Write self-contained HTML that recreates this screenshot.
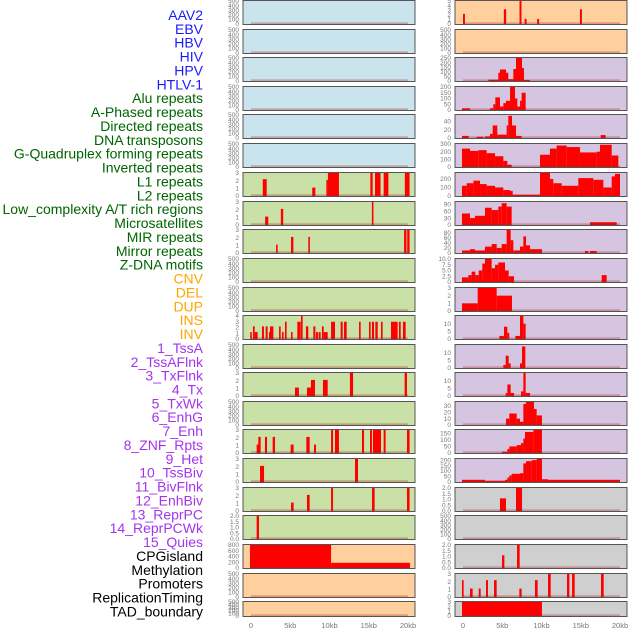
<!DOCTYPE html>
<html><head><meta charset="utf-8"><style>
html,body{margin:0;padding:0;background:#fff;}
svg{display:block;font-family:"Liberation Sans",sans-serif;}
</style></head><body>
<svg id="chart" width="630" height="630" viewBox="0 0 630 630" xmlns="http://www.w3.org/2000/svg"></svg>
<script>
const labels = ["AAV2","EBV","HBV","HIV","HPV","HTLV-1","Alu repeats","A-Phased repeats","Directed repeats","DNA transposons","G-Quadruplex forming repeats","Inverted repeats","L1 repeats","L2 repeats","Low_complexity A/T rich regions","Microsatellites","MIR repeats","Mirror repeats","Z-DNA motifs","CNV","DEL","DUP","INS","INV","1_TssA","2_TssAFlnk","3_TxFlnk","4_Tx","5_TxWk","6_EnhG","7_Enh","8_ZNF_Rpts","9_Het","10_TssBiv","11_BivFlnk","12_EnhBiv","13_ReprPC","14_ReprPCWk","15_Quies","CPGisland","Methylation","Promoters","ReplicationTiming","TAD_boundary"];
const labelColors = ["#1a1aff",6,"#006400",13,"#ffa500",5,"#a335ee",15,"#000000",5];
const rowTops = [0,29,57,86,114,143,172,201,229,258,287,315,344,372,401,429,458,487,515,544,573,601];
const leftBg = ["#c9e4ec","#c9e4ec","#c9e4ec","#c9e4ec","#c9e4ec","#c9e4ec","#c9e0a6","#c9e0a6","#c9e0a6","#c9e0a6","#c9e0a6","#c9e0a6","#c9e0a6","#c9e0a6","#c9e0a6","#c9e0a6","#c9e0a6","#c9e0a6","#c9e0a6","#ffd09e","#ffd09e","#ffd09e"];
const rightBg = ["#ffd09e","#ffd09e","#d6c5e1","#d6c5e1","#d6c5e1","#d6c5e1","#d6c5e1","#d6c5e1","#d6c5e1","#d6c5e1","#d6c5e1","#d6c5e1","#d6c5e1","#d6c5e1","#d6c5e1","#d6c5e1","#d6c5e1","#cfcfcf","#cfcfcf","#cfcfcf","#cfcfcf","#cfcfcf"];
const T500 = ["0","100","200","300","400","500"];
const T3 = ["0","1","2","3"];
const T2 = ["0.0","0.5","1.0","1.5","2.0"];
const leftTicks = [T500,T500,T500,T500,T500,T500,T3,T3,T3,T500,T500,["0","1","2","3","4"],T500,T3,T500,T3,T3,T3,T2,["0","200","400","600","800"],T500,T500];
const leftMax = [500,500,500,500,500,500,3,3,3,500,500,4,500,3,500,3,3,3,2,800,500,500];
const rightTicks = [["0","1","2","3","4","5"],T500,["0","50","100","150","200","250"],["0","50","100","150","200"],["0","20","40"],["0","100","200","300"],["0","100","200"],["0","30","60","90"],["0","20","40","60","80"],["0","2.5","5.0","7.5","10.0"],T3,["0","5","10"],["0","5","10"],["0","5","10"],["0","10","20","30"],["0","50","100","150"],["0","50","100","150","200"],T2,T500,T2,T3,T3];
const rightTickMax = [5,500,250,200,40,300,200,90,80,10,3,10,10,10,30,150,200,2,500,2,3,3];
const rightMax = [5,500,250,200,55,300,270,100,90,10,3,15,15,15,36,175,210,2,500,2,3,3];
const leftBars = [[],[],[],[],[],[],
[[1.5,2.0,2.2],[7.8,8.2,1.1],[9.6,9.8,2.1],[9.8,11.2,3],[15.2,15.5,3],[15.8,16.5,3],[16.9,17.5,3],[19.6,20.2,3]],
[[1.8,2.2,1.1],[3.8,4.1,2.1],[15.4,15.6,3]],
[[3.2,3.4,1.1],[5.1,5.4,2.1],[7.3,7.5,2.1],[19.5,19.8,3],[19.9,20.2,3]],
[],[],
[[-0.1,0.1,1.2],[0.25,0.47,2.2],[0.47,0.85,1.2],[1.4,1.65,2.2],[1.87,2.12,2.2],[2.3,2.5,1.2],[2.42,2.85,2.2],[3.57,3.78,2.2],[3.95,4.16,1.2],[4.33,4.54,3],[5.1,5.3,1.2],[5.9,6.33,3],[6.37,6.58,4],[7.0,7.3,2.2],[7.94,8.2,2.2],[8.28,8.53,1.2],[8.62,8.87,1.2],[9.04,9.26,2.2],[9.26,9.77,1.2],[10.2,10.7,3],[11.42,11.68,3],[11.85,12.19,3],[13.76,13.97,3],[15.03,15.24,3],[15.41,15.67,3],[15.84,16.14,3],[16.56,16.77,3],[17.83,18.68,3],[18.85,19.07,3],[19.36,19.7,3]],
[],
[[5.6,6.1,1.1],[7.13,7.64,1.1],[7.64,8.15,2.1],[9.17,9.77,2.1],[12.6,13.0,3],[19.57,19.87,3]],
[],
[[0.72,0.98,1.1],[0.93,1.23,2.1],[1.78,2.04,2.1],[2.76,3.06,2.1],[5.05,5.43,1.1],[7.05,7.47,2.1],[8.03,8.28,1.1],[10.2,10.45,3],[10.7,11.2,3],[14.14,14.4,3],[15.16,15.41,3],[15.54,16.56,3],[16.9,17.15,3],[19.87,20.2,3]],
[[1.15,1.66,2.1],[13.25,13.63,3]],
[[5.1,5.43,1.1],[7.13,7.47,2.1],[10.2,10.45,3],[15.41,15.75,3],[19.87,20.2,3]],
[[0.72,1.02,2.1]],
[[-0.13,10.2,850],[10.2,20.25,180]],
[],[]];
const rightBars = [
[[0,0.25,2.2],[5.2,5.5,3.2],[7.2,7.45,5],[7.85,8.1,1.1],[9.45,9.7,1.1],[14.9,15.15,3.2]],
[],
[[3.23,4.5,15],[4.5,4.71,90],[4.71,5.48,125],[5.48,5.77,90],[5.77,6.41,20],[6.41,6.75,130],[6.75,7.52,250],[7.52,7.77,140],[7.77,8.54,10]],
[[-0.13,0.89,15],[3.44,3.86,15],[3.86,4.12,50],[4.12,4.71,110],[4.71,5.14,30],[5.14,5.48,60],[5.48,5.99,80],[5.99,6.62,200],[6.62,6.92,100],[6.92,7.26,30],[7.26,7.47,80],[7.47,7.98,150]],
[[-0.13,0.72,5],[1.74,2.59,3],[2.8,3.44,4],[3.44,3.78,10],[3.78,4.37,30],[4.37,5.56,8],[5.56,5.77,30],[5.77,6.24,53],[6.24,6.75,30],[6.75,7.47,5],[17.54,18.17,7]],
[[-0.13,0.89,240],[0.89,1.95,210],[1.95,3.01,220],[3.01,4.08,180],[4.08,5.14,140],[5.14,5.65,80],[5.65,6.2,30],[9.81,11.08,160],[11.08,11.93,240],[11.93,13.21,280],[13.21,14.9,260],[14.9,17.03,190],[17.03,17.45,200],[17.45,18.94,290],[18.94,19.79,150]],
[[-0.13,0.47,120],[0.47,1.32,150],[1.32,2.17,180],[2.17,3.01,140],[3.01,4.08,120],[4.08,5.14,100],[5.14,5.99,70],[5.99,6.33,60],[6.33,9.81,15],[9.81,11.08,270],[11.08,11.5,200],[11.5,12.57,150],[12.57,14.69,120],[14.69,16.6,210],[16.6,17.88,190],[17.88,18.94,100],[18.94,19.36,230],[19.36,20.0,260]],
[[-0.13,0.89,50],[0.89,1.53,30],[1.53,2.8,40],[2.8,3.65,75],[3.65,4.5,65],[4.5,4.93,80],[4.93,5.56,95],[5.56,6.2,80],[16.18,19.58,12]],
[[-0.13,0.89,10],[0.89,1.53,15],[1.53,2.8,10],[2.8,3.65,25],[3.65,4.29,35],[4.29,4.93,20],[4.93,5.56,35],[5.56,6.07,90],[6.07,6.41,50],[6.41,7.26,10],[7.26,7.69,25],[7.69,8.03,65],[8.03,8.54,30],[8.54,10.06,15],[15.54,15.96,8],[16.18,17.03,8]],
[[-0.13,0.68,2],[0.68,1.1,3],[1.1,1.57,4.5],[1.57,2.0,3],[2.0,2.46,5],[2.46,2.8,8],[2.8,3.65,10],[3.65,4.08,6],[4.08,4.5,7.5],[4.5,5.35,8.5],[5.35,5.82,5],[5.82,6.5,2.5],[17.67,18.3,3]],
[[-0.13,1.87,1],[1.87,4.29,3],[4.29,6.24,2]],
[[4.63,5.22,2],[5.22,5.65,8],[5.65,5.9,4],[6.67,7.26,2],[7.26,7.69,15],[7.69,7.98,10]],
[[5.14,5.44,2],[5.44,5.82,8],[5.82,6.07,3],[7.26,7.52,3],[7.52,7.94,14]],
[[5.44,5.65,2],[5.65,6.07,7.5],[6.07,6.5,2],[7.39,7.69,3],[7.69,7.98,15],[7.98,8.54,2]],
[[5.48,5.9,10],[5.9,6.84,18],[6.84,7.26,10],[7.26,7.69,5],[7.69,8.03,33],[8.03,9.04,36],[9.04,9.38,25],[9.38,10.06,15]],
[[4.97,5.65,10],[5.65,5.9,30],[5.9,6.84,50],[6.84,7.39,60],[7.39,7.69,75],[7.69,7.9,110],[7.9,8.96,160],[8.96,10.06,175]],
[[-0.13,2.8,20],[2.8,5.35,10],[5.35,5.65,20],[5.65,5.9,40],[5.9,6.2,60],[6.2,7.26,75],[7.26,7.69,80],[7.69,8.03,170],[8.03,8.75,190],[8.75,9.38,200],[9.38,10.06,210],[10.06,10.87,25],[10.87,20.0,20]],
[[4.71,5.48,1.1],[6.75,7.52,2]],
[],
[[4.97,5.27,1.1],[6.88,7.22,2]],
[[-0.13,0.08,2.2],[0.89,1.23,1.1],[2.0,2.25,1.1],[2.93,3.18,2.2],[3.95,4.29,2.2],[7.18,7.47,1.1],[9.17,9.51,2.2],[10.83,11.17,3.2],[13.25,13.55,3.2],[13.89,14.23,3.2],[17.58,17.92,3.2]],
[[-0.13,10.06,3.2]]
];
const xTicks = ["0","5kb","10kb","15kb","20kb"];
const xTickVals = [0,5,10,15,20];

const NS = "http://www.w3.org/2000/svg";
const svg = document.getElementById("chart");
function mk(tag, attrs, parent){ const e=document.createElementNS(NS,tag); for(const k in attrs) e.setAttribute(k,attrs[k]); (parent||svg).appendChild(e); return e; }
function xScale(col, kb){ const x0 = col===0 ? 251 : 463; return x0 + kb*7.85; }
function panelH(i){ return i===21 ? 16 : 25; }
function yScale(i, v, max){ const top=rowTops[i], h=panelH(i); const bottom = top+h-1; return bottom - Math.min(v,max)/max*(h-2); }

// labels
let li=0; const colorList=[];
for(let k=0;k<labelColors.length;k+=2){ for(let j=0;j<labelColors[k+1];j++) colorList.push(labelColors[k]); }
labels.forEach((t,i)=>{
  const e = mk("text",{x:203,y:15+i*13.87+5,"text-anchor":"end","font-size":"14",fill:colorList[i]});
  e.textContent=t;
  
  
});

function drawPanel(col, i){
  const x = col===0 ? 243 : 455, w = 172, top = rowTops[i], h = panelH(i);
  const g = mk("g",{});
  
  
  mk("rect",{x:x,y:top+0.5,width:w,height:h-1,fill:(col===0?leftBg:rightBg)[i],stroke:"#555","stroke-width":1},g);
  const ticks = col===0 ? leftTicks[i] : rightTicks[i];
  const tmax = col===0 ? leftMax[i] : rightTickMax[i];
  const vmax = col===0 ? leftMax[i] : rightMax[i];
  ticks.forEach(t=>{
    const v=parseFloat(t);
    const ty = yScale(i, v*(vmax/ (col===0?vmax:vmax)), vmax);
    const lab = mk("text",{x:x-4,y:ty+2.2,"text-anchor":"end","font-size":"6.5",fill:"#777"},g);
    lab.textContent=t;
    
    
  });
  const bars = col===0 ? leftBars[i] : rightBars[i];
  bars.forEach(b=>{
    const x0=xScale(col,b[0]), x1=xScale(col,b[1]);
    const y=yScale(i,b[2],vmax);
    const r = mk("rect",{x:x0,y:y,width:Math.max(1,x1-x0),height:(top+h-1)-y,fill:"#ff0000"},g);
    
    
  });
  mk("rect",{x:xScale(col,0),y:top+h-2.5,width:xScale(col,20)-xScale(col,0),height:1.2,fill:"rgba(170,30,30,0.45)"},g);
}
for(let i=0;i<rowTops.length;i++){ drawPanel(0,i); drawPanel(1,i); }

[0,1].forEach(col=>{
  xTicks.forEach((t,k)=>{
    const e = mk("text",{x:xScale(col,xTickVals[k]),y:628,"text-anchor":"middle","font-size":"7.5",fill:"#777"});
    e.textContent=t;
    
    
  });
});
</script>
</body></html>
